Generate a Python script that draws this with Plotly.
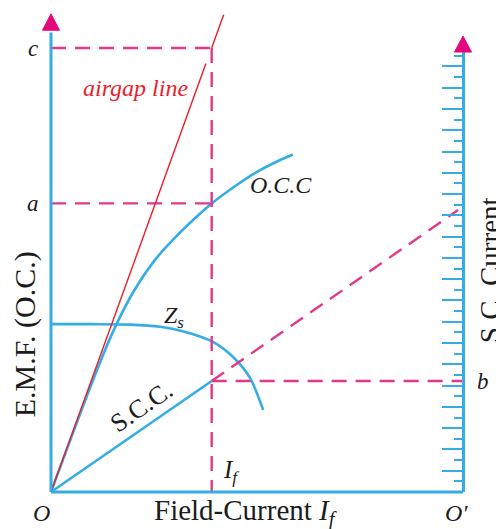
import plotly.graph_objects as go

# ---- quantities (field current on x, e.m.f. on y, O' at x = 10) ----
IF_VAL = 3.9      # field current I_f
EMF_A = 6.5       # open-circuit e.m.f. at I_f        -> a
EMF_C = 10.0      # air-gap line e.m.f. at I_f        -> c
ISC_B = 2.5       # short-circuit characteristic at I_f -> b
X_END = 10.0      # O'
EMF_AXIS_TOP = 10.35

# open-circuit characteristic
occ_x = [0, 1.0, 1.5, 2.0, 2.5, 3.0, 3.5, 3.9, 4.5, 5.0, 5.5, 5.87]
occ_y = [0, 2.47, 3.6, 4.51, 5.2, 5.72, 6.17, 6.5, 6.91, 7.21, 7.45, 7.6]

# synchronous impedance curve
zs_x = [0, 1.0, 1.92, 2.65, 3.2, 3.93, 4.42, 4.83, 5.15]
zs_y = [3.78, 3.78, 3.77, 3.72, 3.62, 3.38, 3.04, 2.57, 1.85]

# short-circuit characteristic and its extension to the S.C. scale
scc_x = [0, IF_VAL]
scc_y = [0, ISC_B]
scc_ext_x = [IF_VAL, 9.88]
scc_ext_y = [ISC_B, 6.35]

# air-gap line (broken just below c)
air_x = [0, 3.76, None, 3.9, 4.19]
air_y = [0, 9.65, None, 10.0, 10.75]

# S.C. current scale
SC_RANGE = [0, 41.35]

BLUE = "#34ade6"
PINK = "#e2378b"
MAGENTA = "#e5067f"
RED = "#ec1c2a"
INK = "#1c1c1c"
SERIF = "Liberation Serif"

W, H = 496, 529
X_RANGE = [-51 / 41.2, (W - 51) / 41.2]
Y_RANGE = [-(H - 492) / 44.4, 492 / 44.4]

fig = go.Figure()

blue_line = dict(color=BLUE, width=2.6)
dash_line = dict(color=PINK, width=2.4, dash="15px,9px")

fig.add_trace(go.Scatter(x=occ_x, y=occ_y, mode="lines",
                         line=dict(blue_line, shape="spline", smoothing=1.0)))
fig.add_trace(go.Scatter(x=zs_x, y=zs_y, mode="lines",
                         line=dict(blue_line, shape="spline", smoothing=0.8)))
fig.add_trace(go.Scatter(x=scc_x, y=scc_y, mode="lines", line=blue_line))

# construction lines
fig.add_trace(go.Scatter(x=[0, IF_VAL], y=[EMF_C, EMF_C], mode="lines", line=dash_line))
fig.add_trace(go.Scatter(x=[0, IF_VAL], y=[EMF_A, EMF_A], mode="lines", line=dash_line))
fig.add_trace(go.Scatter(x=[IF_VAL, IF_VAL], y=[EMF_C, 0], mode="lines", line=dash_line))
fig.add_trace(go.Scatter(x=[IF_VAL, X_END], y=[ISC_B, ISC_B], mode="lines", line=dash_line))
fig.add_trace(go.Scatter(x=scc_ext_x, y=scc_ext_y, mode="lines", line=dash_line))

fig.add_trace(go.Scatter(x=air_x, y=air_y, mode="lines",
                         line=dict(color=RED, width=1.4), connectgaps=False))

# dummy trace so the S.C. current axis exists
fig.add_trace(go.Scatter(x=[None], y=[None], yaxis="y2", mode="lines"))

# E.M.F. and field-current axes with arrow heads
fig.add_shape(type="line", x0=0, y0=0, x1=0, y1=EMF_AXIS_TOP,
              line=dict(color=BLUE, width=3))
fig.add_shape(type="line", x0=0, y0=0, x1=X_END, y1=0,
              line=dict(color=BLUE, width=3))

hw = 8.5 / 41.2
fig.add_shape(type="path",
              path=f"M {-hw},{EMF_AXIS_TOP + 0.05} L 0,{EMF_AXIS_TOP + 0.42} L {hw},{EMF_AXIS_TOP + 0.05} Z",
              fillcolor=MAGENTA, line=dict(color=MAGENTA, width=1))
sc_top = SC_RANGE[1] * 10.64 / 44.4
fig.add_shape(type="path",
              path=f"M {X_END - hw},{sc_top} L {X_END},{sc_top + 0.36} L {X_END + hw},{sc_top} Z",
              fillcolor=MAGENTA, line=dict(color=MAGENTA, width=1))


def label(text, x, y, size=22, color=INK, angle=0):
    fig.add_annotation(text=text, x=x, y=y, xref="x", yref="y", showarrow=False,
                       xanchor="center", yanchor="middle", textangle=angle,
                       font=dict(family=SERIF, size=size, color=color))


label("<i>c</i>", -0.44, EMF_C, size=23)
label("<i>a</i>", -0.44, EMF_A, size=23)
label("<i>b</i>", 10.49, ISC_B, size=23)
label("<i>O</i>", -0.22, -0.47, size=24)
label("<i>O′</i>", 9.85, -0.47, size=24)
label("<i>airgap line</i>", 2.06, 9.10, size=24, color=RED)
label("<i>O.C.C</i>", 5.58, 6.91, size=24)
label("<i>Z<sub>s</sub></i>", 2.99, 3.95, size=24)
label("<i>I<sub>f</sub></i>", 4.37, 0.47, size=25)
label("S.C.C.", 2.2, 1.93, size=26, angle=-34.7)
label("Field-Current <i>I<sub>f</sub></i>", 4.71, -0.47, size=29)
label("E.M.F. (O.C.)", -0.61, 3.55, size=30, angle=-90)
label("S.C. Current", 10.66, 5.0, size=29, angle=-90)

fig.update_layout(
    width=W, height=H,
    margin=dict(l=0, r=0, t=0, b=0),
    paper_bgcolor="white", plot_bgcolor="rgba(0,0,0,0)",
    showlegend=False,
    xaxis=dict(range=X_RANGE, visible=False, fixedrange=True),
    yaxis=dict(range=Y_RANGE, visible=False, fixedrange=True, domain=[0, 1]),
    yaxis2=dict(
        range=SC_RANGE, anchor="free", position=463 / W, side="right",
        domain=[(H - 492) / H, (H - 492 + SC_RANGE[1] * 10.64) / H],
        showline=True, linecolor=BLUE, linewidth=3,
        ticks="inside", ticklen=20, tickwidth=2, tickcolor=BLUE, dtick=2, tick0=0,
        minor=dict(ticks="inside", ticklen=8, tickwidth=2, tickcolor=BLUE, dtick=1),
        showticklabels=False, showgrid=False, zeroline=False, fixedrange=True,
    ),
)

fig.write_html("out.html")
